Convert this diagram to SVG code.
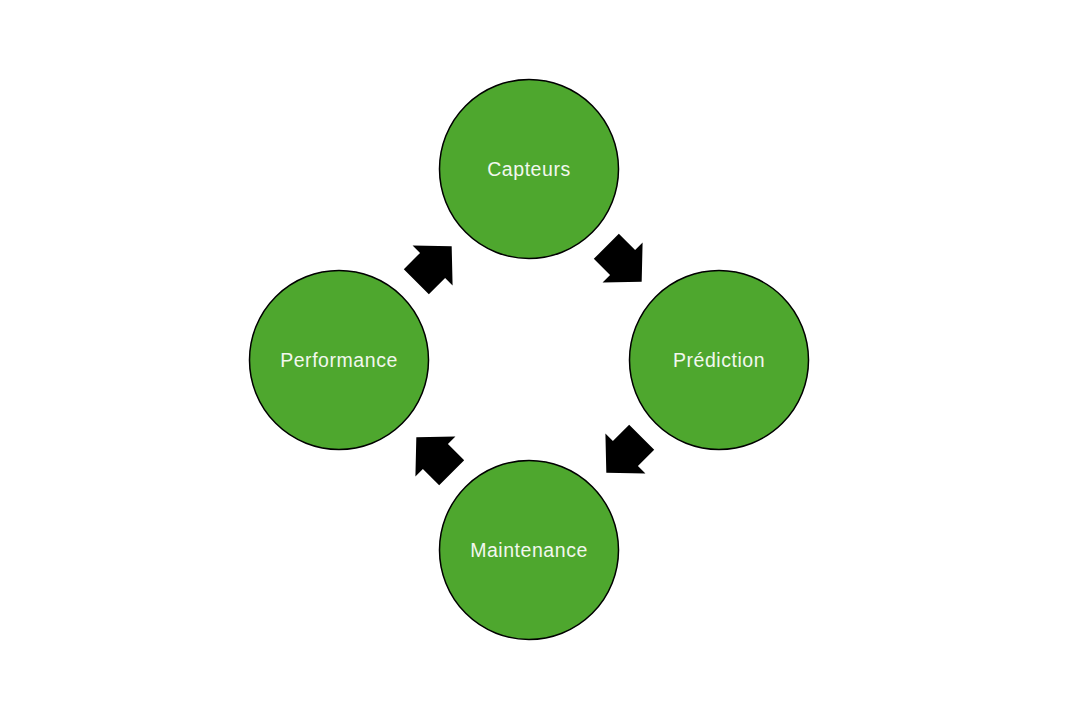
<svg xmlns="http://www.w3.org/2000/svg" width="1080" height="720" viewBox="0 0 1080 720">
<defs>
<style>
.node circle{fill:#4ea72e;stroke:#000;stroke-width:1.5}
.node text{font-family:"Liberation Sans",Arial,sans-serif;font-size:19.5px;letter-spacing:0.55px;fill:#f2f7ee;text-anchor:middle}
.arrow{fill:#000}
</style>
<polygon id="blk" points="-25,-17.7 -2,-17.7 -2,-28.3 25,0 -2,28.3 -2,17.7 -25,17.7"/>
</defs>
<rect width="1080" height="720" fill="#fff"/>
<g id="connectors">
<use href="#blk" class="arrow" transform="translate(434,264) rotate(-45)"/>
<use href="#blk" class="arrow" transform="translate(624,264) rotate(45)"/>
<use href="#blk" class="arrow" transform="translate(624,455) rotate(135)"/>
<use href="#blk" class="arrow" transform="translate(434,455) rotate(-135)"/>
</g>
<g id="capteurs" class="node"><circle cx="529" cy="169" r="89.5"/><text x="529" y="176">Capteurs</text></g>
<g id="prediction" class="node"><circle cx="719" cy="360" r="89.5"/><text x="719" y="367">Prédiction</text></g>
<g id="maintenance" class="node"><circle cx="529" cy="550" r="89.5"/><text x="529" y="557">Maintenance</text></g>
<g id="performance" class="node"><circle cx="339" cy="360" r="89.5"/><text x="339" y="367">Performance</text></g>
</svg>
